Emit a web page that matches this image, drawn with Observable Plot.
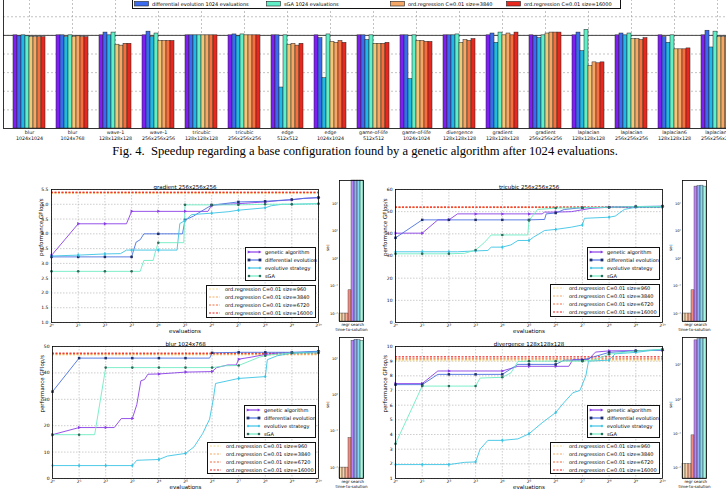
<!DOCTYPE html>
<html>
<head>
<meta charset="utf-8">
<script src="https://cdn.jsdelivr.net/npm/d3@7"></script>
<script src="https://cdn.jsdelivr.net/npm/@observablehq/plot@0.6"></script>
<style>
  body { margin: 0; background: #fff; }
  #fig { position: relative; width: 726px; height: 491px; overflow: hidden; background: #fff;
         font-family: "DejaVu Sans", sans-serif; color: #000; }
  .legend { position: absolute; border: 1px solid #111; background: #fff; box-sizing: border-box; }
  .legend .row { position: absolute; display: flex; align-items: center; white-space: nowrap; }
  .legend .row span { font-size: 5px; line-height: 6px; }
  .caption { position: absolute; left: 0; width: 726px; text-align: center;
             font-family: "Liberation Serif", serif; font-size: 12.6px; line-height: 13px; white-space: pre; }
</style>
</head>
<body>
<div id="fig"></div>
<script>
// ---------------- data: speedup chart (Fig. 4) ----------------
const benchmarks = [
  "blur\n1024x1024", "blur\n1024x768", "wave-1\n128x128x128", "wave-1\n256x256x256",
  "tricubic\n128x128x128", "tricubic\n256x256x256", "edge\n512x512", "edge\n1024x1024",
  "game-of-life\n512x512", "game-of-life\n1024x1024", "divergence\n128x128x128",
  "gradient\n128x128x128", "gradient\n256x256x256", "laplacian\n128x128x128",
  "laplacian\n256x256x256", "laplacian6\n128x128x128", "laplacian6\n256x256x256"
];
const speedupGA    = [1.00, 1.00, 1.00, 1.00, 1.00, 1.00, 1.00, 1.00, 1.00, 1.00, 1.00, 1.00, 1.00, 1.00, 1.00, 1.00, 1.00];
const speedupDE    = [0.99, 1.00, 1.03, 1.04, 1.00, 1.01, 1.00, 0.97, 1.00, 1.00, 1.00, 1.02, 0.99, 1.03, 1.02, 0.98, 1.05];
const speedupES    = [1.00, 0.98, 1.00, 0.98, 1.00, 0.99, 0.44, 0.54, 0.95, 0.53, 1.00, 0.92, 0.97, 0.83, 1.00, 0.92, 0.87];
const speedupSGA   = [0.99, 1.00, 1.03, 1.02, 1.00, 1.01, 1.00, 1.01, 1.00, 1.00, 1.01, 1.03, 1.00, 1.06, 1.02, 1.00, 1.04];
const speedup960   = [0.98, 0.98, 0.90, 0.94, 1.00, 1.00, 0.90, 0.93, 0.91, 0.94, 0.92, 1.00, 1.02, 0.67, 0.96, 0.85, 0.98];
const speedup3840  = [0.98, 0.99, 0.89, 0.94, 1.00, 1.00, 0.91, 0.92, 0.91, 0.94, 0.95, 1.02, 1.03, 0.71, 0.96, 0.85, 0.98];
const speedup6720  = [0.98, 0.98, 0.91, 0.94, 1.00, 1.00, 0.89, 0.94, 0.91, 0.93, 0.94, 1.00, 1.03, 0.70, 0.95, 0.85, 0.98];
const speedup16000 = [0.98, 0.98, 0.91, 0.94, 1.00, 1.00, 0.91, 0.92, 0.92, 0.93, 0.96, 1.03, 1.03, 0.71, 0.97, 0.86, 0.98];
const speedupTicks = [0.2, 0.4, 0.6, 0.8, 1.0, 1.2, 1.4];

// ---------------- data: best performance found vs. evaluations ----------------
// [evaluations, GFlop/s]
const gradGA  = [[1,3.27],[2,4.34],[4,4.34],[7,4.34],[8,4.76],[16,4.76],[32,4.76],[58,4.76],[64,4.97],[128,5.02],[256,5.08],[360,5.12],[512,5.15],[700,5.2],[1024,5.22]];
const gradDE  = [[1,3.22],[2,3.22],[4,3.22],[8,3.22],[9,3.72],[10,3.8],[11,4.0],[16,4.0],[30,4.0],[32,4.47],[40,4.6],[45,4.7],[64,4.97],[128,5.08],[256,5.1],[512,5.16],[700,5.2],[1024,5.23]];
const gradES  = [[1,3.25],[2,3.28],[4,3.32],[6,3.33],[7,3.45],[8,3.45],[16,3.45],[26,3.45],[28,4.35],[32,4.45],[38,4.65],[64,4.7],[100,4.75],[128,4.8],[256,4.88],[300,4.95],[400,5.0],[512,5.0],[1024,5.02]];
const gradSGA = [[1,2.73],[2,2.73],[4,2.73],[8,2.73],[10,2.73],[11,3.1],[14,3.1],[15,3.45],[16,3.7],[31,3.7],[32,4.98],[64,4.98],[128,4.98],[256,5.0],[512,5.0],[1024,5.02]];
const gradOrd = [5.36, 5.38, 5.40, 5.41];

const tricGA  = [[1,40.3],[2,40.3],[3,46.3],[4,46.3],[5,49],[8,49],[16,49],[32,49],[45,49],[48,49.8],[64,49.8],[96,50],[160,51.5],[256,52],[512,52.1],[1024,52.2]];
const tricDE  = [[1,38.2],[2,46.3],[4,46.3],[8,46.3],[16,46.3],[32,46.3],[48,46.5],[50,49],[64,49.4],[80,51],[128,51.8],[256,52],[512,52.3],[1024,52.5]];
const tricES  = [[1,31.9],[2,31.9],[4,31.9],[5,31.9],[8,32.3],[11,32.5],[12,34],[16,34],[20,35],[24,37],[32,37],[36,38.5],[48,41.5],[64,42],[96,43],[128,44],[135,47],[256,47.5],[300,48],[380,51],[512,52],[1024,52]];
const tricSGA = [[1,31.0],[2,31.0],[4,31.0],[6,31.2],[8,32.7],[10,36],[12,39.5],[16,39.5],[31,39.5],[32,46],[40,51],[64,51.6],[128,51.8],[256,52],[512,52.3],[1024,52.3]];
const tricOrd = [51.8, 51.9, 52.0, 52.1];

const blurGA  = [[1,16.6],[2,19.3],[4,19.3],[5,19.3],[6,22.7],[8,22.7],[9,28],[10,37],[11,37.5],[12,39.5],[16,39.6],[24,40],[32,40.3],[64,40.5],[72,42],[96,43],[120,43],[128,45.2],[180,46],[256,47],[360,47.5],[512,47.5],[1024,48]];
const blurDE  = [[1,32.9],[2,45.6],[4,45.6],[8,45.6],[16,45.6],[32,45.6],[60,45.6],[64,47.6],[128,47.8],[256,47.8],[512,47.8],[1024,48.2]];
const blurES  = [[1,4.9],[2,4.9],[4,4.9],[8,4.9],[9,6.9],[16,7.2],[20,8.5],[32,9.5],[40,12],[50,17],[60,22.5],[66,30],[70,36],[128,37.9],[256,38.6],[270,45],[350,46.5],[512,47.5],[1024,48]];
const blurSGA = [[1,16.6],[2,16.6],[3,16.6],[4,42],[8,42],[16,42],[32,42],[64,42],[90,42.7],[128,42.8],[220,46],[256,46.5],[320,47],[512,47.5],[1024,47.5]];
const blurOrd = [46.8, 47.0, 47.3, 47.5];

const divGA  = [[1,7.47],[2,7.47],[3,8.33],[4,8.33],[16,8.33],[24,8.65],[32,8.65],[64,8.65],[90,8.65],[100,9.12],[128,9.12],[150,9.12],[180,9.62],[256,9.7],[512,9.72],[1024,9.75]];
const divDE  = [[1,7.4],[2,7.4],[3,8.1],[4,8.1],[8,8.1],[16,8.1],[24,8.78],[32,8.78],[64,8.78],[80,9.07],[128,9.07],[256,9.6],[512,9.7],[1024,9.77]];
const divES  = [[1,1.95],[2,1.95],[4,1.95],[6,2.1],[8,2.13],[9,3.0],[11,3.6],[16,3.6],[24,3.7],[32,4.05],[45,4.8],[64,5.5],[80,6.2],[100,6.85],[120,7.0],[140,8.0],[150,9.0],[256,9.07],[300,9.5],[512,9.6],[1024,9.82]];
const divSGA = [[1,3.37],[2,7.3],[4,7.3],[8,7.3],[9,7.85],[16,7.9],[20,8.2],[24,8.98],[32,9.0],[64,9.0],[128,9.0],[180,9.1],[256,9.48],[512,9.7],[1024,9.8]];
const divOrd = [9.03, 9.12, 9.2, 9.3];

const evalTicks = [1, 2, 4, 8, 16, 32, 64, 128, 256, 512, 1024];

// ---------------- data: time-to-solution (sec) ----------------
const regrKeys   = ["960", "3840", "6720", "16000"];
const searchKeys = ["GA", "DE", "ES", "sGA"];
const gradRegrSec   = [0.01, 0.01, 0.01, 0.07];
const gradSearchSec = [700, 700, 700, 700];
const tricRegrSec   = [0.01, 0.01, 0.01, 0.07];
const tricSearchSec = [415, 430, 450, 415];
const blurRegrSec   = [0.01, 0.01, 0.01, 0.065];
const blurSearchSec = [31, 33, 32, 31];
const divRegrSec    = [0.013, 0.013, 0.013, 0.09];
const divSearchSec  = [52, 56, 57, 56];

// ---------------- styling ----------------
const barColors = {GA: "#7f1ff5", DE: "#3b6cf0", ES: "#20b8e6", sGA: "#5ff0c8",
                   "960": "#f0c878", "3840": "#f6a766", "6720": "#f5703e", "16000": "#e8281e"};
const ordColors = {"960": "#f2d88e", "3840": "#f5a860", "6720": "#f26a3a", "16000": "#ee1c1c"};
const algo = [
  {key: "GA",  label: "genetic algorithm",      line: "#8a3fe6", mark: "#8a3fe6", symbol: "triangle"},
  {key: "DE",  label: "differential evolution", line: "#4a70e0", mark: "#1f2f66", symbol: "square"},
  {key: "ES",  label: "evolutive strategy",     line: "#3cc4e4", mark: "#3cc4e4", symbol: "diamond"},
  {key: "sGA", label: "sGA",                    line: "#6eecc4", mark: "#2e6b5c", symbol: "circle"}
];
const FONT = "DejaVu Sans";
const baseStyle = `background: transparent; max-width: none; overflow: visible; font-family: '${FONT}'; font-size: 5px;`;

const SUP = {"0":"⁰","1":"¹","2":"²","3":"³","4":"⁴","5":"⁵","6":"⁶","7":"⁷","8":"⁸","9":"⁹","-":"⁻"};
const sup = s => String(s).split("").map(c => SUP[c]).join("");
const pow2Label = v => "2" + sup(Math.round(Math.log2(v)));
const pow10Label = v => "10" + sup(Math.round(Math.log10(v)));
const isPow2 = e => Number.isInteger(Math.log2(e));

const fig = document.getElementById("fig");
function put(node, left, top) {
  node.style.position = "absolute";
  node.style.left = left + "px";
  node.style.top = top + "px";
  fig.appendChild(node);
  return node;
}

// ---------------- speedup bar chart ----------------
{
  const series = ["GA", "DE", "ES", "sGA", "960", "3840", "6720", "16000"];
  const values = [speedupGA, speedupDE, speedupES, speedupSGA, speedup960, speedup3840, speedup6720, speedup16000];
  const rows = [];
  benchmarks.forEach((b, i) => series.forEach((s, j) => rows.push({bench: b, series: s, value: values[j][i]})));
  const common = {width: 742, height: 166, marginLeft: 3, marginRight: 0, marginTop: 0, marginBottom: 17};
  const yScale = {domain: [0, 1.6], axis: null};
  const band = {domain: benchmarks, paddingInner: 0.22, paddingOuter: 0.05, axis: null};

  const back = Plot.plot({
    ...common, style: baseStyle,
    x: {type: "band", ...band}, y: yScale,
    marks: [
      Plot.ruleY(speedupTicks, {stroke: "#9a9a9a", strokeWidth: 0.6, strokeDasharray: "2,2"}),
      Plot.ruleX(benchmarks, {x: d => d, stroke: "#9a9a9a", strokeWidth: 0.6, strokeDasharray: "2,2"}),
      Plot.ruleY([1], {stroke: "#444", strokeWidth: 1}),
      Plot.text(benchmarks, {x: d => d, text: d => d, frameAnchor: "bottom", lineAnchor: "top", dy: 1.5,
                             fontSize: 4.8, lineHeight: 1.25, fill: "#111"}),
      Plot.frame({stroke: "#000", strokeWidth: 0.8})
    ]
  });
  put(back, 0, -21);

  const front = Plot.plot({
    ...common, style: baseStyle,
    facet: {data: rows, x: "bench"},
    fx: band,
    x: {type: "band", domain: series, padding: 0, axis: null},
    y: yScale,
    color: {domain: series, range: series.map(s => barColors[s])},
    marks: [
      Plot.barY(rows, {x: "series", y: "value", fill: "series", stroke: "#222", strokeWidth: 0.5})
    ]
  });
  put(front, 0, -21);

  // legend (lower row of the four-column legend)
  const leg = document.createElement("div");
  leg.className = "legend";
  leg.style.cssText += "width:489px;height:16px;";
  const entries = [
    {key: "DE", text: "differential evolution 1024 evaluations", x: 1},
    {key: "sGA", text: "sGA 1024 evaluations", x: 133},
    {key: "3840", text: "ord.regression C=0.01 size=3840", x: 257},
    {key: "16000", text: "ord.regression C=0.01 size=16000", x: 373}
  ];
  for (const e of entries) {
    const row = document.createElement("div");
    row.className = "row";
    row.style.left = e.x + "px";
    row.style.top = "7px";
    const sw = d3.create("svg").attr("width", 15).attr("height", 6).style("margin-right", "3px");
    sw.append("rect").attr("x", 0.5).attr("y", 0.5).attr("width", 14).attr("height", 4.5)
      .attr("fill", barColors[e.key]).attr("stroke", "#222").attr("stroke-width", 0.6);
    row.appendChild(sw.node());
    const t = document.createElement("span");
    t.textContent = e.text;
    row.appendChild(t);
    leg.appendChild(row);
  }
  put(leg, 132, -7);

  const cap = document.createElement("div");
  cap.className = "caption";
  cap.textContent = "Fig. 4.  Speedup regarding a base configuration found by a genetic algorithm after 1024 evaluations.";
  put(cap, 2, 145);
}

// ---------------- evaluation panels ----------------
function legendBox(box, entries, swW, gap, drawSwatch, padTop) {
  const div = document.createElement("div");
  div.className = "legend";
  div.style.width = box.w + "px";
  div.style.height = box.h + "px";
  entries.forEach((e, i) => {
    const row = document.createElement("div");
    row.className = "row";
    row.style.left = "1px";
    row.style.top = (padTop + i * 8) + "px";
    const sw = d3.create("svg").attr("width", swW).attr("height", 6).style("margin-right", gap + "px");
    drawSwatch(sw, e, swW);
    row.appendChild(sw.node());
    const t = document.createElement("span");
    t.textContent = e.label;
    row.appendChild(t);
    div.appendChild(row);
  });
  return put(div, box.left, box.top);
}

function markerSwatch(sw, a, w) {
  sw.append("line").attr("x1", 2).attr("x2", w - 2).attr("y1", 3).attr("y2", 3)
    .attr("stroke", a.line).attr("stroke-width", 1.2);
  for (const cx of [2, w - 2]) {
    if (a.symbol === "square") sw.append("rect").attr("x", cx - 1.4).attr("y", 1.6).attr("width", 2.8).attr("height", 2.8).attr("fill", a.mark);
    else if (a.symbol === "circle") sw.append("circle").attr("cx", cx).attr("cy", 3).attr("r", 1.3).attr("fill", a.mark);
    else if (a.symbol === "triangle") sw.append("path").attr("d", `M${cx - 1.3},${1.5}L${cx + 1.6},3L${cx - 1.3},${4.5}Z`).attr("fill", a.mark);
    else sw.append("path").attr("d", `M${cx},1.6L${cx + 1.4},3L${cx},4.4L${cx - 1.4},3Z`).attr("fill", a.mark);
  }
}
function dashSwatch(sw, o, w) {
  sw.append("line").attr("x1", 1).attr("x2", w - 1).attr("y1", 3).attr("y2", 3)
    .attr("stroke", o.color).attr("stroke-width", 1).attr("stroke-dasharray", "2,1.5");
}

function linePanel(p) {
  const mL = 51, mR = 10, mT = 14, mB = 18;
  const left = p.x0 - mL, top = p.y0 - mT;
  const width = p.x1 - left + mR, height = p.y1 - top + mB;
  const marks = [
    Plot.ruleX(evalTicks, {x: d => d, stroke: "#9a9a9a", strokeWidth: 0.5, strokeDasharray: "1.5,1.5"}),
    Plot.ruleY(p.yTicks, {y: d => d, stroke: "#9a9a9a", strokeWidth: 0.5, strokeDasharray: "1.5,1.5"}),
    Plot.ruleY(p.ord, {y: d => d, stroke: (d, i) => ordColors[regrKeys[i]], strokeWidth: 1, strokeDasharray: "2,1.5"})
  ];
  p.series.forEach((s, k) => {
    const a = algo[k];
    marks.push(Plot.line(s, {x: d => d[0], y: d => d[1], stroke: a.line, strokeWidth: 0.9}));
  });
  p.series.forEach((s, k) => {
    const a = algo[k];
    marks.push(Plot.dot(s.filter(d => isPow2(d[0])), {
      x: d => d[0], y: d => d[1], symbol: a.symbol, fill: a.mark,
      r: a.symbol === "square" ? 1.4 : 1.3, rotate: a.symbol === "triangle" ? 90 : 0
    }));
  });
  marks.push(
    Plot.frame({stroke: "#000", strokeWidth: 0.8}),
    Plot.text(evalTicks, {x: d => d, text: pow2Label, frameAnchor: "bottom", lineAnchor: "top", dy: 1, fontSize: 4.5}),
    Plot.text(p.yTicks, {y: d => d, text: p.yFormat, frameAnchor: "left", textAnchor: "end", dx: -3, fontSize: 4.5}),
    Plot.text([p.title], {text: d => d, frameAnchor: "top", lineAnchor: "bottom", dy: -1, fontSize: 5.5}),
    Plot.text(["evaluations"], {text: d => d, frameAnchor: "bottom", lineAnchor: "top", dy: 7, fontSize: 5.5}),
    Plot.text(["performance GFlop/s"], {text: d => d, frameAnchor: "left", rotate: -90, dx: -10, fontSize: 5.5})
  );
  const chart = Plot.plot({
    width, height, marginLeft: mL, marginRight: mR, marginTop: mT, marginBottom: mB, style: baseStyle,
    x: {type: "log", base: 2, domain: [1, 1024], axis: null},
    y: {domain: p.yDomain, axis: null},
    marks
  });
  put(chart, left, top);

  legendBox(p.leg1, algo, 15, 3, markerSwatch, 1);
  legendBox(p.leg2, regrKeys.map(k => ({label: "ord.regression C=0.01 size=" + k, color: ordColors[k]})), 13, 4, dashSwatch, 0);
}

function sidePanel(p) {
  const mL = 14, mR = 2, mT = 2, mB = 16;
  const left = p.x0 - mL, top = p.y0 - mT;
  const width = p.x1 - left + mR, height = p.y1 - top + mB;
  const common = {width, height, marginLeft: mL, marginRight: mR, marginTop: mT, marginBottom: mB, style: baseStyle};
  const yScale = {type: "log", domain: p.domain, axis: null, clamp: true};
  const groups = ["regr", "search"];

  const back = Plot.plot({
    ...common,
    x: {type: "band", domain: groups, padding: 0, axis: null},
    y: yScale,
    marks: [
      Plot.text(p.ticks, {y: d => d, text: pow10Label, frameAnchor: "left", textAnchor: "end", dx: -1.5, fontSize: 3.6}),
      Plot.text(groups, {x: d => d, text: d => d, frameAnchor: "bottom", lineAnchor: "top", dy: 1.5, fontSize: 4}),
      Plot.text(["time-to-solution"], {text: d => d, frameAnchor: "bottom", lineAnchor: "top", dy: 7, fontSize: 4}),
      Plot.text(["sec"], {text: d => d, frameAnchor: "left", rotate: -90, dx: -12, fontSize: 4})
    ]
  });
  put(back, left, top);

  const rows = [];
  regrKeys.forEach((k, i) => rows.push({group: "regr", slot: i, key: k, value: p.regr[i]}));
  searchKeys.forEach((k, i) => rows.push({group: "search", slot: i, key: k, value: p.search[i]}));
  const keys = [...regrKeys, ...searchKeys];
  const front = Plot.plot({
    ...common,
    facet: {data: rows, x: "group"},
    fx: {domain: groups, padding: 0, axis: null},
    x: {type: "band", domain: [0, 1, 2, 3], padding: 0, axis: null},
    y: yScale,
    color: {domain: keys, range: keys.map(k => barColors[k])},
    marks: [
      Plot.barY(rows, {x: "slot", y1: p.domain[0], y2: "value", fill: "key", fillOpacity: 0.55,
                       stroke: "#333", strokeWidth: 0.4})
    ]
  });
  put(front, left, top);

  const frame = Plot.plot({
    ...common,
    x: {domain: [0, 1], axis: null}, y: {...yScale},
    marks: [Plot.frame({stroke: "#000", strokeWidth: 0.8})]
  });
  put(frame, left, top);
}

const f1 = d3.format(".1f"), f0 = d3.format("d");
const panels = [
  {x0: 51, x1: 318, y0: 189, y1: 322, yDomain: [1, 5.5], yTicks: d3.range(1, 5.51, 0.5), yFormat: f1,
   title: "gradient 256x256x256", series: [gradGA, gradDE, gradES, gradSGA], ord: gradOrd,
   leg1: {left: 245, top: 247, w: 71, h: 34}, leg2: {left: 206, top: 285, w: 110, h: 33}},
  {x0: 395, x1: 662, y0: 189, y1: 322, yDomain: [0, 60], yTicks: d3.range(0, 61, 10), yFormat: f0,
   title: "tricubic 256x256x256", series: [tricGA, tricDE, tricES, tricSGA], ord: tricOrd,
   leg1: {left: 587, top: 247, w: 73, h: 33}, leg2: {left: 550, top: 284, w: 110, h: 33}},
  {x0: 52, x1: 318, y0: 346, y1: 478, yDomain: [0, 50], yTicks: d3.range(0, 51, 10), yFormat: f0,
   title: "blur 1024x768", series: [blurGA, blurDE, blurES, blurSGA], ord: blurOrd,
   leg1: {left: 244, top: 405, w: 72, h: 33}, leg2: {left: 207, top: 442, w: 109, h: 32}},
  {x0: 395, x1: 662, y0: 346, y1: 478, yDomain: [1, 10], yTicks: d3.range(1, 11, 1), yFormat: f0,
   title: "divergence 128x128x128", series: [divGA, divDE, divES, divSGA], ord: divOrd,
   leg1: {left: 587, top: 405, w: 73, h: 33}, leg2: {left: 550, top: 442, w: 110, h: 32}}
];
const sides = [
  {x0: 339, x1: 363, y0: 180, y1: 321, domain: [10 ** -2.29, 10 ** 2.84], ticks: [0.01, 0.1, 1, 10, 100], regr: gradRegrSec, search: gradSearchSec},
  {x0: 682, x1: 706, y0: 180, y1: 321, domain: [10 ** -2.29, 10 ** 2.84], ticks: [0.01, 0.1, 1, 10, 100], regr: tricRegrSec, search: tricSearchSec},
  {x0: 339, x1: 363, y0: 337, y1: 478, domain: [10 ** -2.3, 10 ** 1.58], ticks: [0.01, 0.1, 1, 10], regr: blurRegrSec, search: blurSearchSec},
  {x0: 682, x1: 706, y0: 337, y1: 478, domain: [10 ** -2.3, 10 ** 1.8], ticks: [0.01, 0.1, 1, 10], regr: divRegrSec, search: divSearchSec}
];
panels.forEach(linePanel);
sides.forEach(sidePanel);
</script>
</body>
</html>
